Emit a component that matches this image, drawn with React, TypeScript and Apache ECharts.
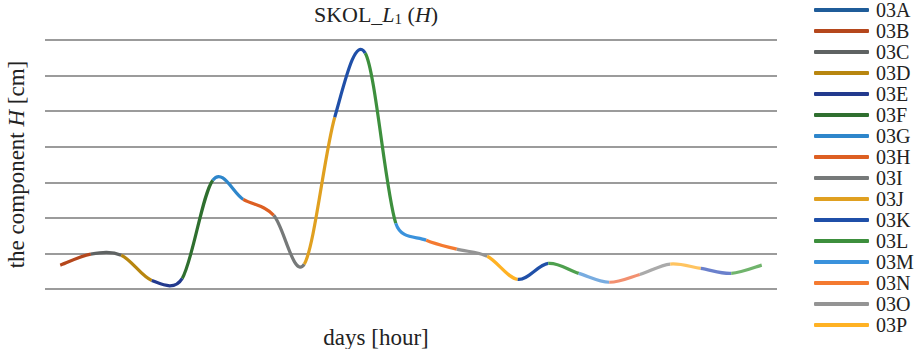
import React, { useEffect, useRef } from "react";
import * as echarts from "echarts";

const legendNames = ["03A", "03B", "03C", "03D", "03E", "03F", "03G", "03H", "03I", "03J", "03K", "03L", "03M", "03N", "03O", "03P"];
const legendColors = ["#1F5C99", "#B5471C", "#5F6363", "#B8860F", "#233A8E", "#2F6F2F", "#2E86CB", "#DD5F22", "#767979", "#E0A020", "#1F4FA8", "#3D8F3D", "#3A92DC", "#F47A30", "#949494", "#FFB224"];

// hourly points of the curve (index along x)
const values = [6.7, 9.8, 9.5, 2.4, 3.0, 30.6, 25.2, 20.7, 7.0, 48.3, 66.3, 18.5, 13.7, 11.2, 9.2, 2.7, 7.2, 4.4, 1.9, 4.1, 7.0, 5.8, 4.4, 6.7];

// colour of each segment between consecutive points
const segmentColors = [
  "#B5471C", "#5F6363", "#B8860F", "#233A8E", "#2F6F2F", "#2E86CB", "#DD5F22", "#767979",
  "#E0A020", "#1F4FA8", "#3D8F3D", "#3A92DC", "#F47A30", "#949494", "#FFB224",
  "#2050A8", "#4EA04E", "#78ACE0", "#F29070", "#AAAAAA", "#FFC460", "#6A80CC", "#70B46C",
];

const yTicks = [0, 10, 20, 30, 40, 50, 60, 70];

const FONT = "Liberation Serif";

const dist = (a: number[], b: number[]) => Math.hypot(a[0] - b[0], a[1] - b[1]);

export default function App() {
  const ref = useRef<HTMLDivElement>(null);
  useEffect(() => {
    if (!ref.current) return;
    const chart = echarts.init(ref.current, null, { renderer: "svg" });
    const categories = values.map((_, i) => String(i));
    const dummySeries = legendNames.map((n) => ({
      name: n,
      type: "line",
      data: [],
      showSymbol: false,
    }));
    const renderItem = (params: any, api: any) => {
      const i = params.dataIndex;
      const n = values.length;
      if (i >= n - 1) return null;
      const pt = (k: number) => {
        const kk = Math.max(0, Math.min(n - 1, k));
        return api.coord([kk, values[kk]]);
      };
      const p0 = pt(i - 1);
      const p1 = pt(i);
      const p2 = pt(i + 1);
      const p3 = pt(i + 2);
      const d12 = dist(p1, p2);
      const d02 = dist(p0, p2);
      const d13 = dist(p1, p3);
      let f = 1 / 6;
      let g = 1 / 6;
      if (d02 / 6 > d12 / 2 && d02 > 0) f = d12 / (2 * d02);
      if (d13 / 6 > d12 / 2 && d13 > 0) g = d12 / (2 * d13);
      const cp1 = [p1[0] + (p2[0] - p0[0]) * f, p1[1] + (p2[1] - p0[1]) * f];
      const cp2 = [p2[0] - (p3[0] - p1[0]) * g, p2[1] - (p3[1] - p1[1]) * g];
      return {
        type: "bezierCurve",
        shape: {
          x1: p1[0], y1: p1[1],
          x2: p2[0], y2: p2[1],
          cpx1: cp1[0], cpy1: cp1[1],
          cpx2: cp2[0], cpy2: cp2[1],
        },
        style: { stroke: segmentColors[i], lineWidth: 3.2, fill: null, lineCap: "butt" },
      };
    };
    chart.setOption({
      animation: false,
      color: legendColors,
      title: [
        {
          text: "SKOL_{i|L}{sub|1} ({i|H})",
          left: 371,
          top: -2,
          textAlign: "center",
          textStyle: {
            fontFamily: FONT,
            fontSize: 22,
            fontWeight: "normal",
            color: "#222",
            rich: {
              i: { fontFamily: FONT, fontSize: 22, fontStyle: "italic", color: "#222" },
              sub: { fontFamily: FONT, fontSize: 15, color: "#222", verticalAlign: "bottom", padding: [8, 0, 0, 0] },
            },
          },
        },
        {
          text: "days [hour]",
          left: 371,
          top: 321,
          textAlign: "center",
          textStyle: { fontFamily: FONT, fontSize: 23, fontWeight: "normal", color: "#222" },
        },
      ],
      legend: {
        data: legendNames,
        orient: "vertical",
        left: 814,
        top: 0,
        padding: 0,
        itemGap: 1.0,
        itemWidth: 55,
        itemHeight: 4,
        icon: "roundRect",
        textStyle: { fontFamily: FONT, fontSize: 20, color: "#222", lineHeight: 20, padding: [0, 0, 0, 2] },
      },
      grid: { left: 45, right: 137, top: 40, bottom: 60, outerBoundsMode: "none", containLabel: false },
      xAxis: {
        type: "category",
        data: categories,
        boundaryGap: true,
        axisLine: { show: false },
        axisTick: { show: false },
        axisLabel: { show: false },
      },
      yAxis: {
        type: "value",
        min: yTicks[0],
        max: yTicks[yTicks.length - 1],
        interval: 10,
        name: "the component {i|H} [cm]",
        nameLocation: "middle",
        nameRotate: 90,
        nameGap: 17,
        nameTextStyle: {
          fontFamily: FONT,
          fontSize: 23,
          color: "#222",
          rich: { i: { fontFamily: FONT, fontSize: 23, fontStyle: "italic", color: "#222" } },
        },
        axisLine: { show: false },
        axisTick: { show: false },
        axisLabel: { show: false },
        splitLine: { lineStyle: { color: "#7a7a7a", width: 1.6 } },
      },
      series: [
        ...dummySeries,
        {
          name: "curve",
          type: "custom",
          renderItem,
          encode: { x: 0, y: 1 },
          data: values.map((v, i) => [i, v]),
          z: 3,
        },
      ],
    });
    return () => chart.dispose();
  }, []);
  return <div ref={ref} style={{ position: "absolute", left: 0, top: 0, width: 914, height: 349 }} />;
}
